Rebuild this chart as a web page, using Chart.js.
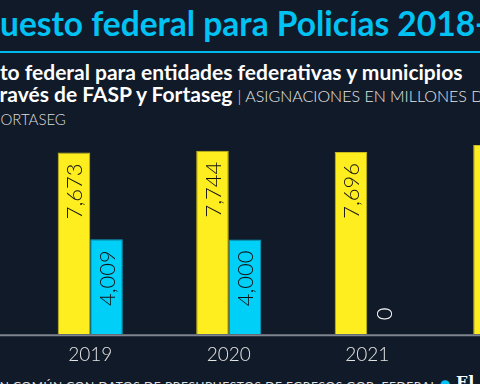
<!DOCTYPE html>
<html>
<head>
<meta charset="utf-8">
<script src="https://cdn.jsdelivr.net/npm/chart.js@4.4.1/dist/chart.umd.min.js"></script>
<style>
  html, body { margin: 0; padding: 0; }
  body {
    width: 480px; height: 384px; overflow: hidden; position: relative;
    background: #111a28; font-family: Lato, "Noto Sans", sans-serif; color: #fff;
  }
  .line { position: absolute; white-space: nowrap; }
  .cut { visibility: hidden; }
  #title { top: 3px; font-size: 33.5px; font-weight: 700; color: #00c2f3; }
  #rule { position: absolute; left: 0; top: 51px; width: 480px; height: 2px; background: #00b8ea; }
  #sub1 { top: 59px; font-size: 21px; font-weight: 700; }
  #sub2 { top: 81px; font-size: 21px; font-weight: 700; }
  #sub2 .light { font-weight: 300; font-size: 16px; color: #e6e6e6; }
  #legend { top: 110px; font-size: 15px; font-weight: 300; color: #dcdcdc; }
  #source { top: 378px; font-size: 12px; font-weight: 400; color: #e0e0e0; letter-spacing: 0.6px; }
  #logo { position: absolute; left: 440px; top: 373px; font-family: "DejaVu Serif", serif; font-size: 16px; font-weight: 700; white-space: nowrap; }
  #logo span { color: #00c2f3; font-size: 12px; }
  #wrap { position: absolute; left: 0; top: 121px; width: 600px; height: 254px; }
</style>
</head>
<body>
<div class="line" id="title"><span class="cut">Presup</span>uesto federal para Policías 2018-2022</div>
<div id="rule"></div>
<div class="line" id="sub1"><span class="cut">Presupues</span>to federal para entidades federativas y municipios</div>
<div class="line" id="sub2"><span class="cut">a t</span>ravés de FASP y Fortaseg <span class="light">| ASIGNACIONES EN MILLONES DE PESOS</span></div>
<div class="line" id="legend"><span class="cut">F</span>ORTASEG</div>
<div class="line" id="source"><span class="cut">FUENTE: CAUSA E</span>N COMÚN CON DATOS DE PRESUPUESTOS DE EGRESOS GOB. FEDERAL</div>
<div id="logo"><span>●</span> El Universal</div>
<div id="wrap"><canvas id="chart"></canvas></div>
<script>
const years = ['2019', '2020', '2021', '2022'];
const fasp = [7673, 7744, 7696, 7985];
const fortaseg = [4009, 4000, 0, null];

// hidden prefixes push each cropped line off the left edge
document.querySelectorAll('.line').forEach(el => {
  const cut = el.querySelector('.cut');
  if (cut) el.style.left = (-cut.offsetWidth) + 'px';
});

const baseline = {
  id: 'baseline',
  beforeDatasetsDraw(chart) {
    const ctx = chart.ctx;
    const y = chart.scales.y.getPixelForValue(0) + 1;
    ctx.save();
    ctx.strokeStyle = '#7f858e';
    ctx.lineWidth = 2;
    ctx.beginPath();
    ctx.moveTo(0, y);
    ctx.lineTo(chart.width, y);
    ctx.stroke();
    ctx.restore();
  }
};

const barLabels = {
  id: 'barLabels',
  afterDatasetsDraw(chart) {
    const ctx = chart.ctx;
    ctx.save();
    ctx.font = '300 22px Lato, sans-serif';
    ctx.textBaseline = 'middle';
    chart.data.datasets.forEach((ds, i) => {
      chart.getDatasetMeta(i).data.forEach((bar, j) => {
        const v = ds.data[j];
        if (v === null || v === undefined) return;
        const text = v.toLocaleString('en-US');
        ctx.save();
        if (bar.base - bar.y < 40) {
          ctx.translate(bar.x, bar.y - 14);
          ctx.rotate(-Math.PI / 2);
          ctx.textAlign = 'left';
          ctx.fillStyle = '#ffffff';
        } else {
          ctx.translate(bar.x, bar.y + 11);
          ctx.rotate(-Math.PI / 2);
          ctx.textAlign = 'right';
          ctx.fillStyle = '#111111';
        }
        ctx.fillText(text, 0, 1);
        ctx.restore();
      });
    });
    ctx.restore();
  }
};

new Chart(document.getElementById('chart'), {
  type: 'bar',
  data: {
    labels: years,
    datasets: [
      { label: 'FASP', data: fasp, backgroundColor: '#ffee1f', borderColor: '#c9bb1c', borderWidth: 1 },
      { label: 'FORTASEG', data: fortaseg, backgroundColor: '#00cff8', borderColor: '#0aa6c6', borderWidth: 1 }
    ]
  },
  options: {
    responsive: true,
    maintainAspectRatio: false,
    animation: false,
    layout: { padding: { left: 21, right: 25, top: 0, bottom: 0 } },
    datasets: { bar: { barPercentage: 1, categoryPercentage: 0.47 } },
    plugins: { legend: { display: false }, tooltip: { enabled: false } },
    scales: {
      x: {
        grid: { display: false, drawTicks: false },
        border: { display: false },
        ticks: { color: '#e4e4e4', padding: 9, font: { family: 'Lato', size: 19, weight: 300 } }
      },
      y: { display: false, min: 0, max: 9000 }
    }
  },
  plugins: [baseline, barLabels]
});
</script>
</body>
</html>
